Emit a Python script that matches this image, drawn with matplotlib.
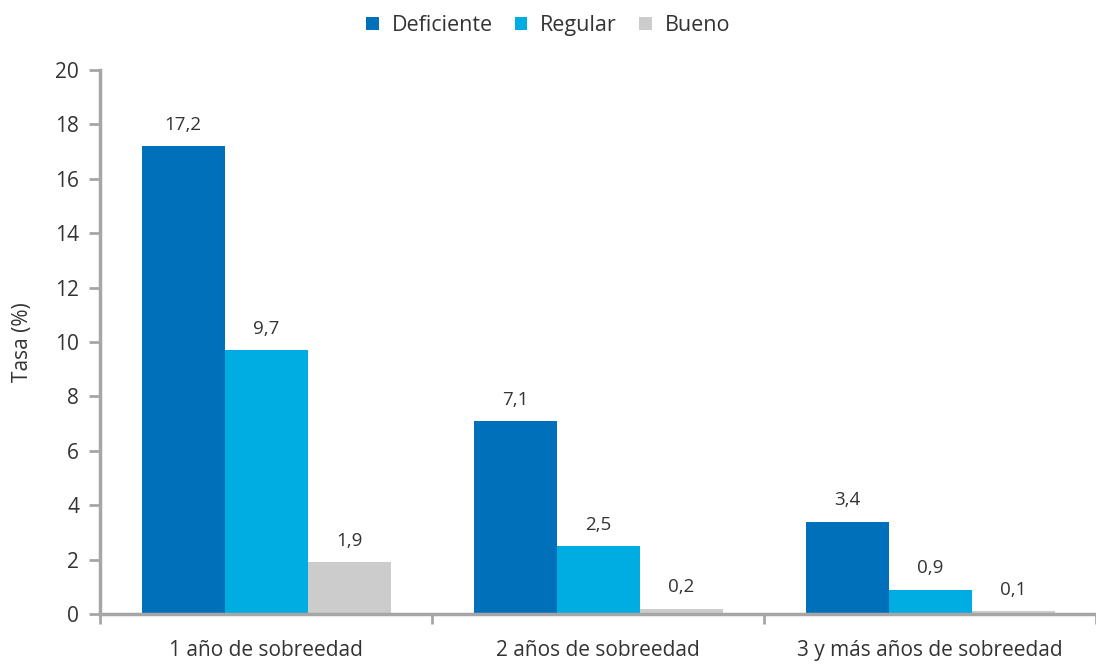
import numpy as np
import matplotlib.pyplot as plt

categories = ['1 año de sobreedad', '2 años de sobreedad', '3 y más años de sobreedad']
series = ['Deficiente', 'Regular', 'Bueno']
deficiente = [17.2, 7.1, 3.4]
regular = [9.7, 2.5, 0.9]
bueno = [1.9, 0.2, 0.1]
labels_def = ['17,2', '7,1', '3,4']
labels_reg = ['9,7', '2,5', '0,9']
labels_bue = ['1,9', '0,2', '0,1']

colors = ['#0070BA', '#00ADE3', '#CCCCCC']
grey = '#A6A6A6'
txt = '#333333'

plt.rcParams['font.family'] = ['Open Sans', 'DejaVu Sans']

fig = plt.figure(figsize=(10.96, 6.64), dpi=100)
ax = fig.add_axes([100 / 1096, 1 - 614 / 664, 996 / 1096, (614 - 70) / 664])

x = np.arange(len(categories))
w = 0.25
data = [deficiente, regular, bueno]
labs = [labels_def, labels_reg, labels_bue]
for i, (vals, lab) in enumerate(zip(data, labs)):
    bars = ax.bar(x + (i - 1) * w, vals, w, color=colors[i], label=series[i], zorder=2)
    for b, t in zip(bars, lab):
        ax.text(b.get_x() + b.get_width() / 2, b.get_height() + 0.45, t,
                ha='center', va='bottom', fontsize=13.5, color=txt)

ax.set_xlim(-0.5, 2.5)
ax.set_ylim(0, 20)
ax.set_yticks(range(0, 21, 2))
ax.set_xticks([-0.5, 0.5, 1.5, 2.5])
ax.set_xticklabels([])
ax.set_xticks(x, minor=True)
ax.set_xticklabels(categories, minor=True)
ax.tick_params(axis='x', which='minor', length=0, pad=19, labelsize=15, labelcolor=txt)
ax.tick_params(axis='x', which='major', direction='out', length=7, width=2, color=grey)
ax.tick_params(axis='y', direction='out', length=8, width=2, color=grey,
               labelsize=15, labelcolor=txt, pad=7)

for s in ['top', 'right']:
    ax.spines[s].set_visible(False)
for s in ['left', 'bottom']:
    ax.spines[s].set_color(grey)
    ax.spines[s].set_linewidth(2.5)
    ax.spines[s].set_zorder(3)

ax.set_ylabel('Tasa (%)', fontsize=15, color=txt, labelpad=16)

fig.legend(loc='upper center', bbox_to_anchor=(0.5, 1.0), ncol=3, frameon=False,
           fontsize=15.5, handlelength=0.6, handleheight=0.6, handletextpad=0.6,
           columnspacing=1.0, labelcolor=txt, borderaxespad=0.3)

fig.savefig('out.png', dpi=100)
